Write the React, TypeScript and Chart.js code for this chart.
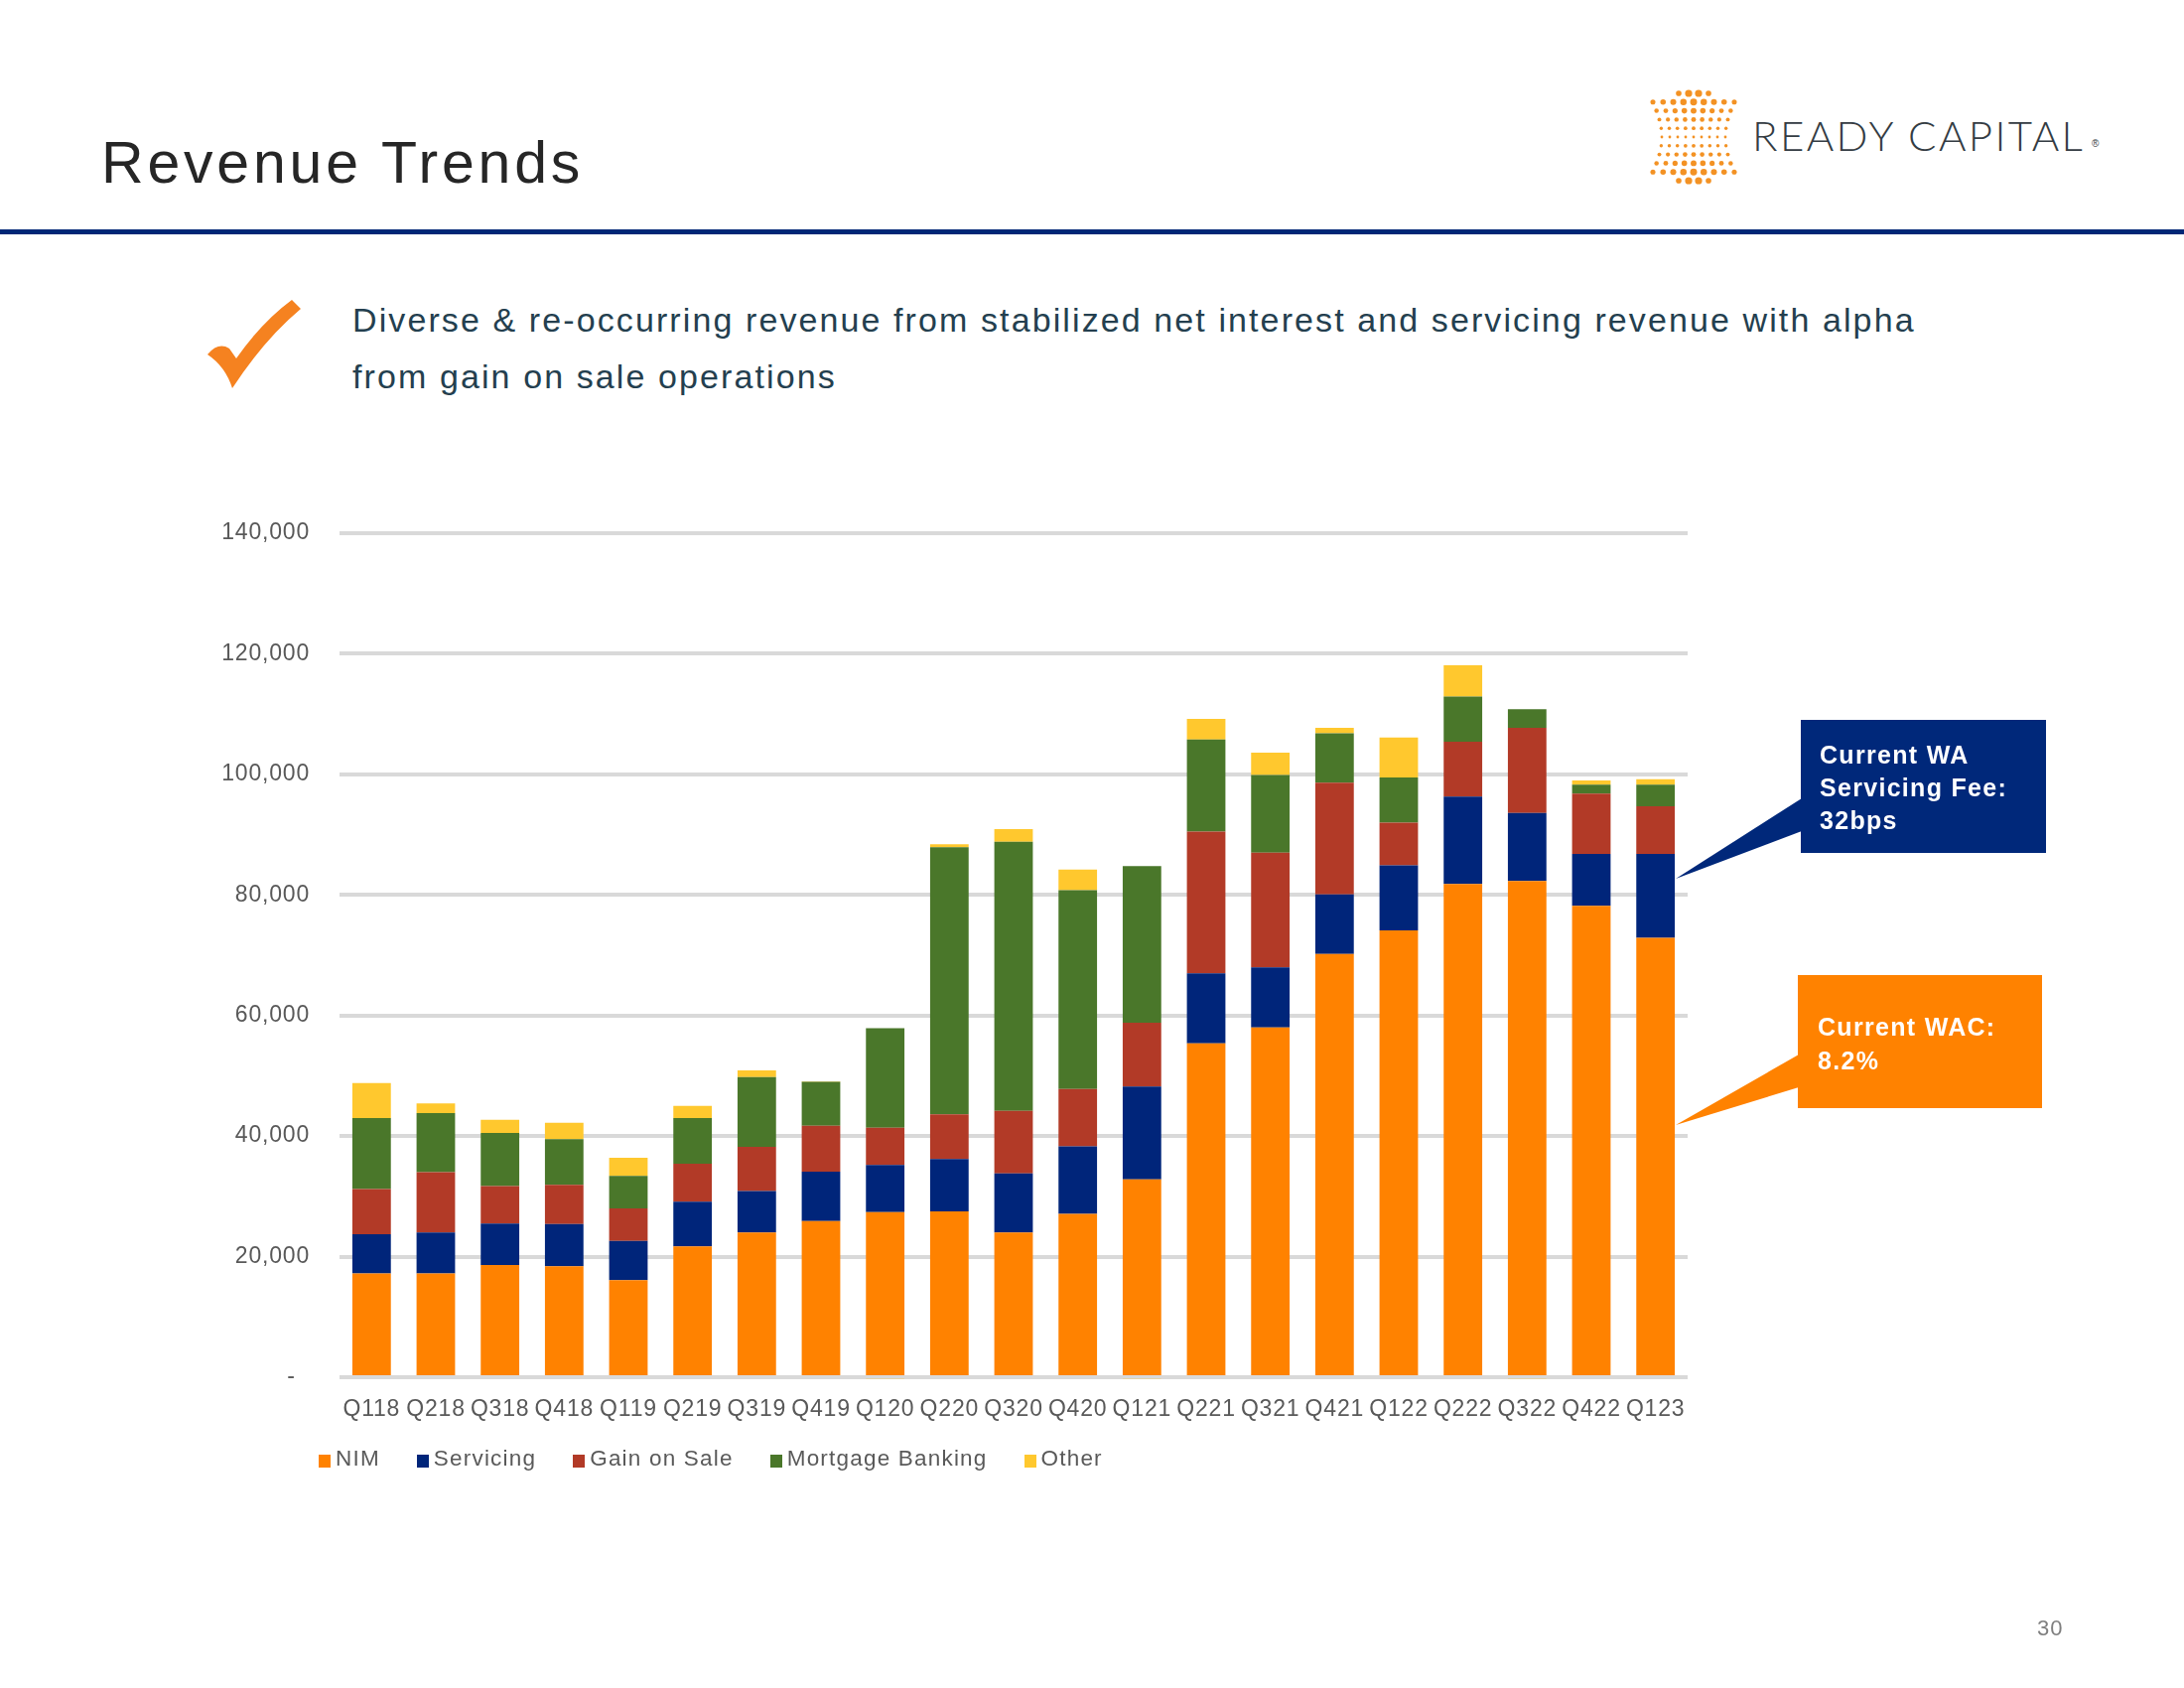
import React, { useEffect, useRef } from 'react';
import { Chart, registerables } from 'chart.js';

Chart.register(...registerables);

// ---------- data ----------
const categories = ['Q118', 'Q218', 'Q318', 'Q418', 'Q119', 'Q219', 'Q319', 'Q419', 'Q120', 'Q220', 'Q320', 'Q420', 'Q121', 'Q221', 'Q321', 'Q421', 'Q122', 'Q222', 'Q322', 'Q422', 'Q123'];
const nim = [17200, 17200, 18600, 18400, 16100, 21700, 24000, 25900, 27400, 27500, 24000, 27100, 32800, 55400, 58000, 70200, 74100, 81800, 82300, 78200, 72900];
const servicing = [6500, 6800, 6900, 7000, 6500, 7400, 6900, 8200, 7800, 8700, 9800, 11200, 15400, 11600, 10000, 9900, 10800, 14500, 11300, 8600, 13900];
const gainOnSale = [7500, 10000, 6200, 6500, 5400, 6300, 7300, 7600, 6200, 7400, 10400, 9500, 10600, 23500, 19000, 18500, 7100, 9100, 14100, 10000, 7900];
const mortgageBanking = [11800, 9800, 8800, 7600, 5400, 7600, 11600, 7300, 16500, 44300, 44600, 33000, 26000, 15300, 12900, 8200, 7500, 7500, 3100, 1500, 3600];
const other = [5800, 1600, 2200, 2700, 3000, 2000, 1100, 100, -300, 500, 2100, 3400, -300, 3400, 3700, 900, 6600, 5200, -300, 700, 900];
const seriesNames = ['NIM', 'Servicing', 'Gain on Sale', 'Mortgage Banking', 'Other'];
const seriesColors = ['#FF8200', '#00257A', '#B23A27', '#4A772A', '#FFC82E'];
const yMin = 0;
const yMax = 140000;
const yStep = 20000;

const FONT = '"Liberation Sans", Arial, sans-serif';

const spacingPlugin = {
  id: 'letterSpacing',
  beforeUpdate(chart: any) { (chart.ctx as any).letterSpacing = '0.8px'; },
  beforeLayout(chart: any) { (chart.ctx as any).letterSpacing = '0.8px'; },
  beforeDraw(chart: any) { (chart.ctx as any).letterSpacing = '0.8px'; },
};

function RevenueChart() {
  const ref = useRef<HTMLCanvasElement | null>(null);
  useEffect(() => {
    if (!ref.current) return;
    const seriesValues = [nim, servicing, gainOnSale, mortgageBanking, other];
    const chart = new Chart(ref.current, {
      type: 'bar',
      data: {
        labels: categories,
        datasets: seriesNames.map((name, i) => ({
          label: name,
          data: seriesValues[i],
          backgroundColor: seriesColors[i],
          borderWidth: 0,
          barPercentage: 0.6,
          categoryPercentage: 1,
          clip: false as any,
          stack: 's',
        })),
      },
      options: {
        responsive: false,
        animation: false,
        devicePixelRatio: 1,
        layout: { padding: { left: 0, right: 50, top: 37, bottom: 53 } },
        plugins: { legend: { display: false }, tooltip: { enabled: false } },
        scales: {
          x: {
            stacked: true,
            grid: { display: false },
            border: { display: false },
            ticks: {
              color: '#595959',
              font: { family: FONT, size: 23 },
              padding: 11,
              maxRotation: 0,
              autoSkip: false,
            },
            afterFit: (s: any) => { s.height = 60; s.paddingLeft = 0; s.paddingRight = 0; },
          },
          y: {
            stacked: true,
            min: yMin,
            max: yMax,
            grid: { color: '#D9D9D9', lineWidth: 4, drawTicks: false },
            border: { display: false },
            ticks: {
              stepSize: yStep,
              color: '#595959',
              font: { family: FONT, size: 23 },
              padding: 30,
              callback: (v: any) => (Number(v) === 0 ? '-  ' : Number(v).toLocaleString('en-US')),
            },
            afterFit: (s: any) => { s.width = 142; s.paddingTop = 0; s.paddingBottom = 0; },
          },
        },
      },
      plugins: [spacingPlugin],
    });
    return () => chart.destroy();
  }, []);
  return <canvas ref={ref} width={1550} height={1000} style={{ position: 'absolute', left: 200, top: 500, width: 1550, height: 1000 }} />;
}

function Logo() {
  const dots: React.ReactNode[] = [];
  const rows = 11;
  for (let i = 0; i < rows; i++) {
    const y = 8 + i * 8.8;
    const edge = i === 0 || i === rows - 1;
    const n = edge ? 4 : 9;
    const hw = edge ? 15 : 45 - 13 * Math.sin((Math.PI * i) / (rows - 1));
    for (let j = 0; j < n; j++) {
      const t = -1 + (2 * j) / (n - 1);
      const x = 50 + t * hw;
      const d = Math.abs(i - 5) / 5;
      const r = 1.4 + 2.6 * d * (1 - 0.45 * Math.abs(t));
      dots.push(<circle key={`${i}-${j}`} cx={x} cy={y} r={r} fill="#F39224" />);
    }
  }
  return (
    <div style={{ position: 'absolute', left: 1656, top: 86, width: 470, height: 110 }}>
      <svg width={110} height={110} style={{ position: 'absolute', left: 0, top: 0 }}>{dots}</svg>
      <div style={{ position: 'absolute', left: 109, top: 65 - 0.8465 * 42, fontFamily: 'Lato, "Open Sans", sans-serif', fontWeight: 300, fontSize: 42, lineHeight: 1, color: '#343C43', letterSpacing: 2.4, whiteSpace: 'nowrap' }}>READY CAPITAL</div>
      <div style={{ position: 'absolute', left: 451, top: 54, fontFamily: FONT, fontSize: 10, lineHeight: 1, color: '#343C43' }}>®</div>
    </div>
  );
}

export default function App() {
  useEffect(() => { document.body.style.margin = '0'; }, []);
  const legendItems = seriesNames.map((n, i) => (
    <div key={n} style={{ display: 'flex', alignItems: 'flex-end', marginRight: 37 }}>
      <div style={{ width: 12, height: 13, background: seriesColors[i], marginRight: 5, marginBottom: 5 }} />
      <span>{n}</span>
    </div>
  ));
  return (
    <div style={{ position: 'fixed', left: 0, top: 0, width: 2200, height: 1700, background: '#FFFFFF', overflow: 'hidden' }}>
      <div style={{ position: 'absolute', left: 102, top: 135, fontFamily: FONT, fontSize: 59, lineHeight: 1, letterSpacing: 3.8, color: '#262626', whiteSpace: 'nowrap' }}>Revenue Trends</div>
      <Logo />
      <div style={{ position: 'absolute', left: 0, top: 231, width: 2200, height: 5, background: '#002776' }} />
      <svg width={140} height={130} style={{ position: 'absolute', left: 190, top: 280 }}>
        <path d="M19,77 Q30,64 41,71 L48,81 Q74,44 104,22 L113,31 Q76,62 44,111 Q37,89 19,77 Z" fill="#F58220" />
      </svg>
      <div style={{ position: 'absolute', left: 355, top: 294, fontFamily: FONT, fontSize: 34, lineHeight: '57px', letterSpacing: 2.1, color: '#243F4F', whiteSpace: 'nowrap' }}>
        Diverse &amp; re-occurring revenue from stabilized net interest and servicing revenue with alpha<br />from gain on sale operations
      </div>
      <RevenueChart />
      <div style={{ position: 'absolute', left: 321, top: 1455, display: 'flex', fontFamily: FONT, fontSize: 22.5, lineHeight: '28px', letterSpacing: 1.2, color: '#595959', whiteSpace: 'nowrap' }}>
        {legendItems}
      </div>
      <svg width={2200} height={1700} style={{ position: 'absolute', left: 0, top: 0, pointerEvents: 'none' }}>
        <rect x={1814} y={725} width={247} height={134} fill="#00287A" />
        <polygon points="1815,804 1815,837 1688,885" fill="#00287A" />
        <rect x={1811} y={982} width={246} height={134} fill="#FF8200" />
        <polygon points="1812,1062 1812,1095 1688,1133" fill="#FF8200" />
      </svg>
      <div style={{ position: 'absolute', left: 1833, top: 744, fontFamily: FONT, fontWeight: 700, fontSize: 25, lineHeight: '33px', letterSpacing: 1.3, color: '#FFFFFF', whiteSpace: 'nowrap' }}>
        Current WA<br />Servicing Fee:<br />32bps
      </div>
      <div style={{ position: 'absolute', left: 1831, top: 1017, fontFamily: FONT, fontWeight: 700, fontSize: 25, lineHeight: '34px', letterSpacing: 1.3, color: '#FFFFFF', whiteSpace: 'nowrap' }}>
        Current WAC:<br />8.2%
      </div>
      <div style={{ position: 'absolute', left: 2052, top: 1648 - 0.8465 * 22, fontFamily: FONT, fontSize: 22, lineHeight: 1, letterSpacing: 1, color: '#7F7F7F' }}>30</div>
    </div>
  );
}
